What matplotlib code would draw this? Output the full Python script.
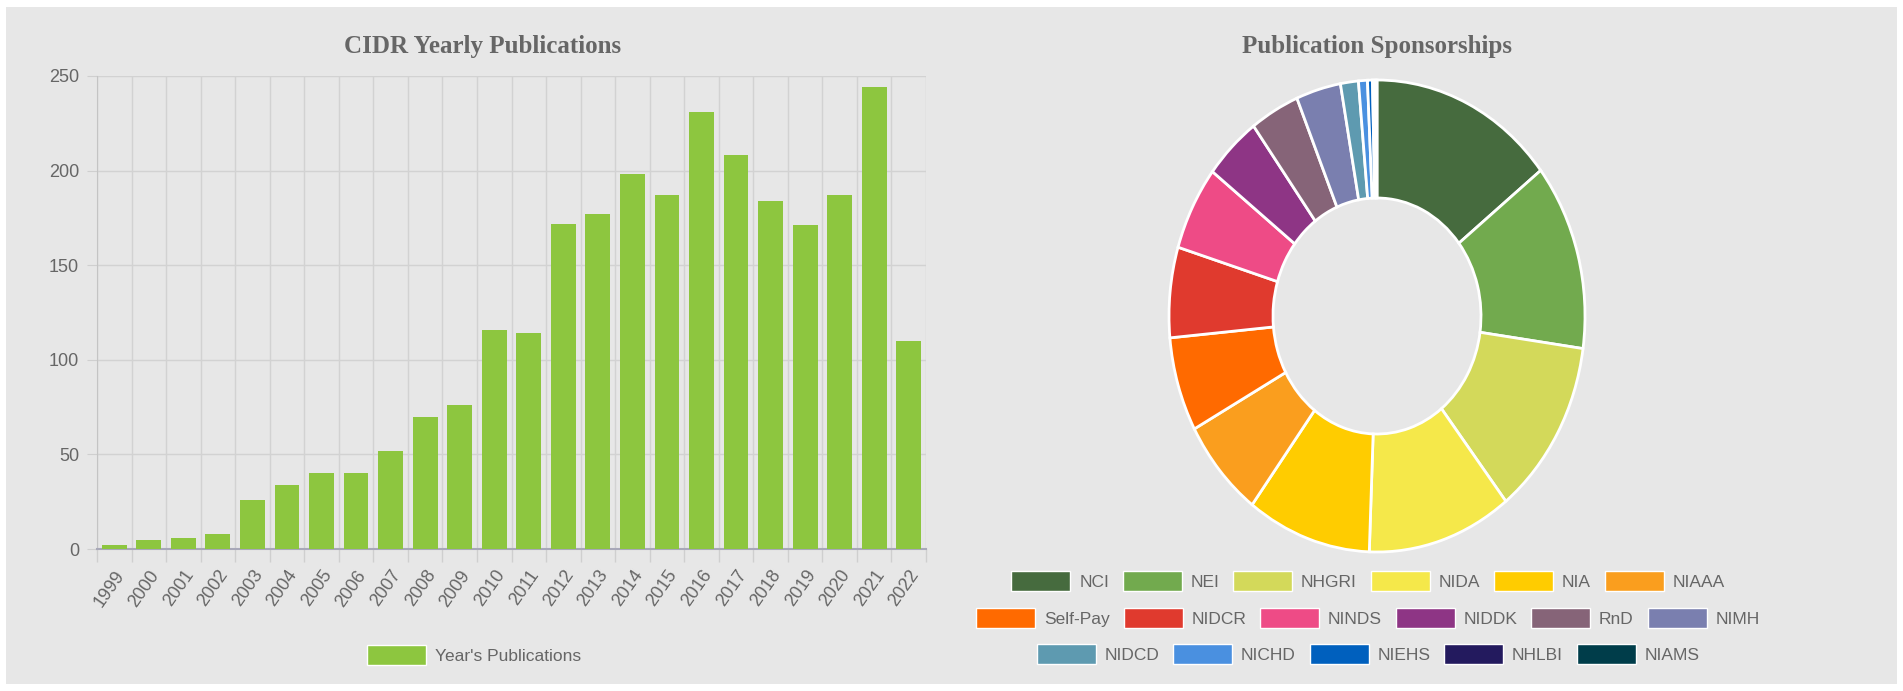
import numpy as np
import matplotlib
matplotlib.use('Agg')
from matplotlib import pyplot as plt
from matplotlib.patches import Patch, Rectangle

# yearly publication counts
years = ['1999', '2000', '2001', '2002', '2003', '2004', '2005', '2006',
         '2007', '2008', '2009', '2010', '2011', '2012', '2013', '2014',
         '2015', '2016', '2017', '2018', '2019', '2020', '2021', '2022']
pubs = [2, 5, 6, 8, 26, 34, 40, 40, 52, 70, 76, 116, 114, 172, 177, 198,
        187, 231, 208, 184, 171, 187, 244, 110]

# sponsorship shares
sponsors = ['NCI', 'NEI', 'NHGRI', 'NIDA', 'NIA', 'NIAAA',
            'Self-Pay', 'NIDCR', 'NINDS', 'NIDDK', 'RnD', 'NIMH',
            'NIDCD', 'NICHD', 'NIEHS', 'NHLBI', 'NIAMS']
sponsor_counts = [415, 368, 350, 323, 278, 196, 186, 178, 166, 127, 110, 100,
                  40, 20, 11, 6, 4]
sponsor_colors = ['#466b3e', '#72aa4e', '#d3d95a', '#f5e84a', '#ffcc00', '#fa9e1e',
                  '#ff6a00', '#e03a2e', '#ee4b86', '#8e3585', '#866478', '#7a7faf',
                  '#5e9ab0', '#4a90e0', '#0060be', '#231a5e', '#003d4a']
legend_rows = [6, 6, 5]

bar_color = '#8dc63f'
bg = '#e7e7e7'
txt = '#666666'

plt.rcParams['font.family'] = ['Liberation Sans', 'DejaVu Sans']

W, H = 1903, 691
fig = plt.figure(figsize=(W / 100, H / 100), dpi=100, facecolor='white')
fig.patches.append(Rectangle((6 / W, 7 / H), 1 - 12 / W, 1 - 14 / H,
                             transform=fig.transFigure, facecolor=bg,
                             edgecolor='none', zorder=-10))

# ---- bar chart ----
ax = fig.add_axes([97 / W, 1 - 549 / H, (926 - 97) / W, (549 - 76) / H])
ax.set_facecolor(bg)
x = np.arange(len(years))
ax.bar(x, pubs, width=0.72, color=bar_color, zorder=3)
ax.set_xlim(-0.5, len(years) - 0.5)
ax.set_ylim(0, 250)
ax.set_yticks(range(0, 251, 50))
ax.set_xticks(x)
ax.set_xticklabels(years, rotation=55, ha='right', rotation_mode='anchor')
ax.set_xticks(np.arange(-0.5, len(years)), minor=True)
ax.tick_params(axis='x', which='major', length=0, pad=13, labelsize=13, labelcolor=txt)
ax.tick_params(axis='x', which='minor', length=9, color='#cfcfcf', width=1)
ax.tick_params(axis='y', length=7, color='#cfcfcf', pad=6, labelsize=13, labelcolor=txt)
ax.grid(True, axis='y', which='major', color='#d2d2d2', lw=1, zorder=0)
ax.grid(True, axis='x', which='minor', color='#d2d2d2', lw=1, zorder=0)
for s in ['top', 'right']:
    ax.spines[s].set_visible(False)
ax.spines['left'].set_color('#c4c4c4')
ax.spines['bottom'].set_color('#a8a8b8')
ax.spines['bottom'].set_linewidth(1.5)

fig.text(483 / W, 1 - 46 / H, 'CIDR Yearly Publications', ha='center', va='center',
         fontsize=18, fontweight='bold', color=txt, family=['Liberation Serif', 'DejaVu Serif'])

fig.legend(handles=[Patch(facecolor=bar_color, edgecolor='white', lw=1)],
           labels=["Year's Publications"], loc='center',
           bbox_to_anchor=(474 / W, 1 - 655 / H), frameon=False, fontsize=12.5,
           labelcolor=txt, handlelength=3.4, handleheight=1.45, handletextpad=0.5,
           borderpad=0)

# ---- donut chart ----
cx, cy, rx, ry = 1377, 316, 208, 236
pad = 1.02
pax = fig.add_axes([(cx - rx * pad) / W, 1 - (cy + ry * pad) / H,
                    2 * rx * pad / W, 2 * ry * pad / H])
pax.pie(sponsor_counts, colors=sponsor_colors, startangle=90, counterclock=False,
        wedgeprops=dict(width=0.5, edgecolor='white', linewidth=2))
pax.set_aspect('auto')
pax.set_xlim(-pad, pad)
pax.set_ylim(-pad, pad)
pax.axis('off')

fig.text(cx / W, 1 - 46 / H, 'Publication Sponsorships', ha='center', va='center',
         fontsize=18, fontweight='bold', color=txt, family=['Liberation Serif', 'DejaVu Serif'])

row_y = [581, 618, 654]
start = 0
for n, ry_ in zip(legend_rows, row_y):
    names = sponsors[start:start + n]
    cols = sponsor_colors[start:start + n]
    start += n
    handles = [Patch(facecolor=c, edgecolor='white', lw=1) for c in cols]
    fig.legend(handles=handles, labels=names, loc='center', ncol=n,
               bbox_to_anchor=(1368 / W, 1 - ry_ / H), frameon=False,
               fontsize=12.5, labelcolor=txt, handlelength=3.4, handleheight=1.45,
               handletextpad=0.5, columnspacing=0.8, borderpad=0)

fig.savefig('out.png', dpi=100, facecolor='white')
